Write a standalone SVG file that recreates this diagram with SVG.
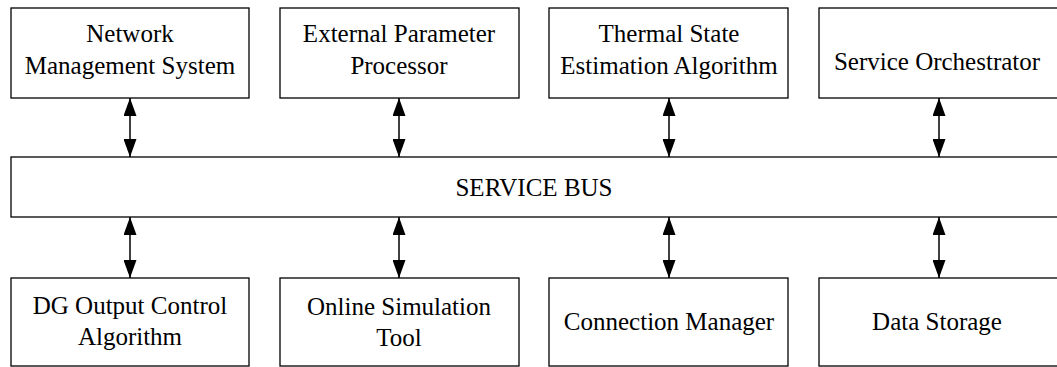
<svg xmlns="http://www.w3.org/2000/svg" width="1057" height="367" viewBox="0 0 1057 367">
<defs>
<style>
.box{fill:#fff;stroke:#000;stroke-width:1.3}
.t{font-family:"Liberation Serif","Times New Roman",serif;font-size:25px;fill:#000;text-anchor:middle}
.c{stroke:#000;stroke-width:1.5;fill:none;marker-start:url(#ah);marker-end:url(#ah)}
</style>
<marker id="ah" markerUnits="userSpaceOnUse" markerWidth="18" markerHeight="13" refX="18" refY="6.5" orient="auto-start-reverse" viewBox="0 0 18 13">
<path d="M0,0 L18,6.5 L0,13 z" fill="#000"/>
</marker>
</defs>
<rect width="1057" height="367" fill="#fff"/>
<g id="connectors">
<line class="c" x1="130" y1="98" x2="130" y2="157"/>
<line class="c" x1="399" y1="98" x2="399" y2="157"/>
<line class="c" x1="669" y1="98" x2="669" y2="157"/>
<line class="c" x1="939" y1="98" x2="939" y2="157"/>
<line class="c" x1="130" y1="217" x2="130" y2="278"/>
<line class="c" x1="399" y1="217" x2="399" y2="278"/>
<line class="c" x1="669" y1="217" x2="669" y2="278"/>
<line class="c" x1="939" y1="217" x2="939" y2="278"/>
</g>
<g id="nms"><rect class="box" x="11" y="8" width="238" height="90"/><text class="t" x="130" y="42">Network</text><text class="t" x="130" y="74">Management System</text></g>
<g id="epp"><rect class="box" x="280" y="8" width="239" height="90"/><text class="t" x="399" y="42">External Parameter</text><text class="t" x="399" y="74">Processor</text></g>
<g id="tsea"><rect class="box" x="549" y="8" width="239" height="90"/><text class="t" x="669" y="42">Thermal State</text><text class="t" x="669" y="74">Estimation Algorithm</text></g>
<g id="so"><rect class="box" x="819" y="8" width="239" height="90"/><text class="t" x="937" y="70">Service Orchestrator</text></g>
<g id="bus"><rect class="box" x="11" y="157" width="1047" height="60"/><text class="t" x="534" y="196">SERVICE BUS</text></g>
<g id="dg"><rect class="box" x="11" y="278" width="238" height="88"/><text class="t" x="130" y="314">DG Output Control</text><text class="t" x="130" y="345">Algorithm</text></g>
<g id="ost"><rect class="box" x="280" y="278" width="239" height="88"/><text class="t" x="399" y="315">Online Simulation</text><text class="t" x="399" y="346">Tool</text></g>
<g id="cm"><rect class="box" x="549" y="278" width="239" height="88"/><text class="t" x="669" y="330">Connection Manager</text></g>
<g id="ds"><rect class="box" x="819" y="278" width="239" height="88"/><text class="t" x="937" y="330">Data Storage</text></g>
</svg>
